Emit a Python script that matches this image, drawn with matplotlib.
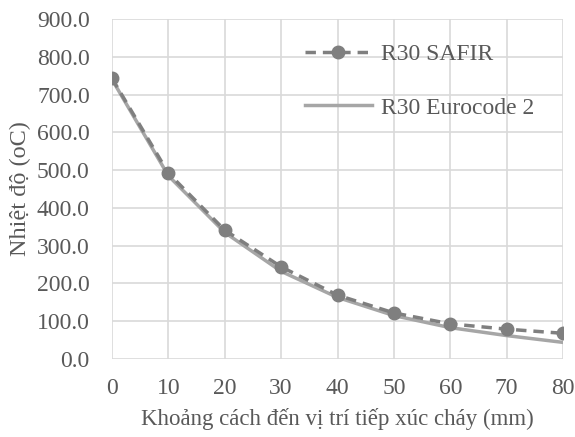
import matplotlib.pyplot as plt
import matplotlib.ticker as ticker

# Dữ liệu
khoang_cach = [0, 10, 20, 30, 40, 50, 60, 70, 80]
safir = [743, 492, 341, 244, 169, 122, 93, 79, 68]
eurocode = [740, 485, 335, 232, 163, 115, 83, 62, 44]

plt.rcParams['font.family'] = ['Liberation Serif', 'DejaVu Serif']

fig = plt.figure(figsize=(5.75, 4.37), dpi=100, facecolor='white')
ax = fig.add_axes([112 / 575, 1 - 359 / 437, 451 / 575, 340 / 437])

ax.plot(khoang_cach, eurocode, color='#a6a6a6', linewidth=2.5, label='R30 Eurocode 2', zorder=3)
ax.plot(khoang_cach, safir, color='#7f7f7f', linewidth=2.5, linestyle=(0, (3, 2)),
        marker='o', markersize=9, label='R30 SAFIR', zorder=4)

ax.set_xlim(0, 80)
ax.set_ylim(0, 900)
ax.xaxis.set_major_locator(ticker.MultipleLocator(10))
ax.yaxis.set_major_locator(ticker.MultipleLocator(100))
ax.yaxis.set_major_formatter(ticker.FormatStrFormatter('%.1f'))
ax.grid(True, color='#d9d9d9', linewidth=1.2, zorder=0)
for s in ax.spines.values():
    s.set_visible(False)
ax.tick_params(length=0, labelsize=17, colors='#595959')
ax.tick_params(axis='x', pad=14)
ax.tick_params(axis='y', pad=16)

ax.set_xlabel('Khoảng cách đến vị trí tiếp xúc cháy (mm)', fontsize=16.5, color='#595959', labelpad=6)
ax.set_ylabel('Nhiệt độ (oC)', fontsize=17.5, color='#595959', labelpad=4)

h, l = ax.get_legend_handles_labels()
leg = ax.legend(h[::-1], l[::-1], loc='upper left', bbox_to_anchor=(0.38, 0.99), frameon=False,
                fontsize=17, labelspacing=1.35, handlelength=2.85, handletextpad=0.4)
for t in leg.get_texts():
    t.set_color('#595959')

fig.savefig('out.png', dpi=100, facecolor='white')
